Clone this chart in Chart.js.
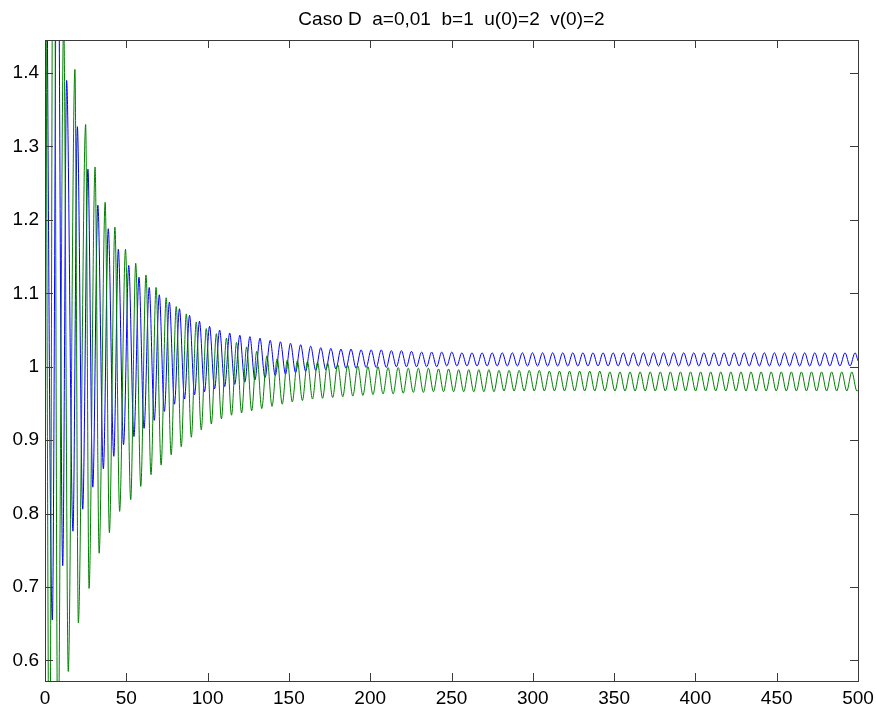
<!DOCTYPE html>
<html>
<head>
<meta charset="utf-8">
<script src="https://cdn.jsdelivr.net/npm/chart.js@4.4.1/dist/chart.umd.min.js"></script>
<style>
    body { margin: 0; background: #fff; }
    #plot { display: block; }
</style>
</head>
<body>
<canvas id="plot" width="876" height="711"></canvas>
<script>
// DATA (turning points of each curve, alternating peak / trough)
const titleText = "Caso D  a=0,01  b=1  u(0)=2  v(0)=2";

const xTicks = [0, 50, 100, 150, 200, 250, 300, 350, 400, 450, 500];
const yTicks = [0.6, 0.7, 0.8, 0.9, 1, 1.1, 1.2, 1.3, 1.4];
const xRange = [0, 500];
const yRange = [0.572, 1.445];

// blue curve
const blueT = [
    0, 4.5, 7.6, 10.9, 13.3, 17.2, 19.9, 23.2,
    26.4, 29.4, 32.5, 35.9, 38.9, 42.3, 45.1, 48.3,
    51.5, 54.7, 57.8, 60.9, 64.1, 67.2, 70.3, 73.4,
    76.5, 79.6, 82.7, 85.8, 88.9, 92.0, 95.0, 98.1,
    101.2, 104.3, 107.4, 110.5, 113.6, 116.7, 119.8, 122.9,
    126.0, 129.1, 132.2, 135.3, 138.5, 141.6, 144.8, 147.9,
    151.0, 154.1, 157.2, 160.3, 163.4, 166.5, 169.6, 172.7,
    175.8, 178.9, 182.0, 185.1, 188.2, 191.3, 194.4, 197.5,
    200.6, 203.7, 206.8, 209.9, 213.0, 216.1, 219.2, 222.3,
    225.4, 228.5, 231.6, 234.7, 237.8, 240.9, 244.0, 247.1,
    250.2, 253.3, 256.4, 259.5, 262.6, 265.7, 268.8, 271.9,
    275.0, 278.1, 281.2, 284.3, 287.4, 290.5, 293.6, 296.7,
    299.8, 302.9, 306.0, 309.1, 312.2, 315.3, 318.4, 321.5,
    324.6, 327.7, 330.8, 333.9, 337.0, 340.1, 343.2, 346.3,
    349.4, 352.5, 355.6, 358.7, 361.8, 364.9, 368.0, 371.1,
    374.2, 377.3, 380.4, 383.5, 386.6, 389.7, 392.8, 395.9,
    399.0, 402.1, 405.2, 408.3, 411.4, 414.5, 417.6, 420.7,
    423.8, 426.9, 430.0, 433.1, 436.2, 439.3, 442.4, 445.5,
    448.6, 451.7, 454.8, 457.9, 461.0, 464.1, 467.2, 470.3,
    473.4, 476.5, 479.6, 482.7, 485.8, 488.9, 492.0, 495.1,
    498.2, 500
];
const blueY = [
    2.0, 0.655, 1.75, 0.729, 1.390, 0.776, 1.327, 0.806,
    1.269, 0.836, 1.220, 0.861, 1.188, 0.878, 1.160, 0.894,
    1.138, 0.905, 1.122, 0.916, 1.108, 0.927, 1.098, 0.939,
    1.088, 0.949, 1.079, 0.956, 1.070, 0.962, 1.062, 0.966,
    1.055, 0.970, 1.050, 0.973, 1.046, 0.976, 1.043, 0.979,
    1.041, 0.982, 1.039, 0.985, 1.036, 0.988, 1.034, 0.990,
    1.032, 0.992, 1.030, 0.994, 1.028, 0.995, 1.026, 0.996,
    1.025, 0.997, 1.024, 0.998, 1.024, 0.998, 1.023, 0.999,
    1.023, 0.999, 1.023, 0.999, 1.022, 1.000, 1.022, 1.000,
    1.021, 1.000, 1.020, 1.000, 1.020, 1.000, 1.020, 1.001,
    1.020, 1.001, 1.019, 1.001, 1.019, 1.001, 1.019, 1.001,
    1.019, 1.001, 1.019, 1.001, 1.019, 1.001, 1.019, 1.001,
    1.019, 1.001, 1.019, 1.001, 1.019, 1.001, 1.019, 1.001,
    1.019, 1.001, 1.019, 1.001, 1.019, 1.001, 1.019, 1.001,
    1.019, 1.001, 1.019, 1.001, 1.019, 1.001, 1.019, 1.001,
    1.019, 1.001, 1.019, 1.001, 1.019, 1.001, 1.019, 1.001,
    1.019, 1.001, 1.019, 1.001, 1.019, 1.001, 1.019, 1.001,
    1.019, 1.001, 1.019, 1.001, 1.019, 1.001, 1.019, 1.001,
    1.019, 1.001, 1.019, 1.001, 1.019, 1.001, 1.019, 1.001,
    1.019, 1.001, 1.019, 1.001, 1.019, 1.001, 1.019, 1.001,
    1.019, 1.008
];

// green curve
const greenT = [
    0, 2.8, 5.3, 7.9, 11.5, 14.3, 18.4, 20.5,
    25.0, 27.1, 30.8, 33.3, 37.0, 39.6, 43.0, 45.9,
    49.5, 52.7, 55.8, 58.9, 62.1, 65.2, 68.3, 71.4,
    74.5, 77.6, 80.7, 83.8, 86.9, 90.0, 93.0, 96.1,
    99.2, 102.3, 105.4, 108.5, 111.6, 114.7, 117.8, 120.9,
    124.0, 127.1, 130.2, 133.3, 136.5, 139.6, 142.8, 145.9,
    149.0, 152.1, 155.2, 158.3, 161.4, 164.5, 167.6, 170.7,
    173.8, 176.9, 180.0, 183.1, 186.2, 189.3, 192.4, 195.5,
    198.6, 201.7, 204.8, 207.9, 211.0, 214.1, 217.2, 220.3,
    223.4, 226.5, 229.6, 232.7, 235.8, 238.9, 242.0, 245.1,
    248.2, 251.3, 254.4, 257.5, 260.6, 263.7, 266.8, 269.9,
    273.0, 276.1, 279.2, 282.3, 285.4, 288.5, 291.6, 294.7,
    297.8, 300.9, 304.0, 307.1, 310.2, 313.3, 316.4, 319.5,
    322.6, 325.7, 328.8, 331.9, 335.0, 338.1, 341.2, 344.3,
    347.4, 350.5, 353.6, 356.7, 359.8, 362.9, 366.0, 369.1,
    372.2, 375.3, 378.4, 381.5, 384.6, 387.7, 390.8, 393.9,
    397.0, 400.1, 403.2, 406.3, 409.4, 412.5, 415.6, 418.7,
    421.8, 424.9, 428.0, 431.1, 434.2, 437.3, 440.4, 443.5,
    446.6, 449.7, 452.8, 455.9, 459.0, 462.1, 465.2, 468.3,
    471.4, 474.5, 477.6, 480.7, 483.8, 486.9, 490.0, 493.1,
    496.2, 499.3, 500
];
const greenY = [
    2.0, 0.35, 1.90, 0.45, 1.47, 0.585, 1.405, 0.651,
    1.330, 0.698, 1.272, 0.746, 1.224, 0.774, 1.190, 0.803,
    1.160, 0.819, 1.141, 0.837, 1.125, 0.853, 1.108, 0.866,
    1.094, 0.880, 1.082, 0.891, 1.072, 0.904, 1.061, 0.914,
    1.052, 0.922, 1.045, 0.929, 1.039, 0.934, 1.033, 0.937,
    1.027, 0.940, 1.021, 0.943, 1.015, 0.946, 1.011, 0.949,
    1.009, 0.952, 1.008, 0.954, 1.007, 0.956, 1.006, 0.957,
    1.005, 0.958, 1.003, 0.959, 1.002, 0.960, 1.001, 0.961,
    1.000, 0.962, 1.000, 0.963, 0.999, 0.963, 0.999, 0.964,
    0.998, 0.965, 0.998, 0.965, 0.998, 0.966, 0.997, 0.966,
    0.997, 0.966, 0.996, 0.966, 0.996, 0.966, 0.996, 0.966,
    0.996, 0.966, 0.995, 0.967, 0.995, 0.967, 0.995, 0.967,
    0.995, 0.967, 0.995, 0.967, 0.994, 0.967, 0.994, 0.967,
    0.994, 0.967, 0.994, 0.967, 0.994, 0.967, 0.994, 0.967,
    0.993, 0.967, 0.993, 0.967, 0.993, 0.967, 0.993, 0.967,
    0.993, 0.967, 0.993, 0.967, 0.993, 0.967, 0.993, 0.967,
    0.993, 0.967, 0.993, 0.967, 0.993, 0.967, 0.993, 0.967,
    0.993, 0.967, 0.993, 0.967, 0.993, 0.967, 0.993, 0.967,
    0.993, 0.967, 0.993, 0.967, 0.993, 0.967, 0.993, 0.967,
    0.993, 0.967, 0.993, 0.967, 0.993, 0.967, 0.993, 0.967,
    0.993, 0.967, 0.968
];

function toPoints(ts, ys) {
    return ts.map((t, i) => ({ x: t, y: ys[i] }));
}

// box round the plot with inward ticks on all four sides (matlab style)
const matlabBox = {
    id: "matlabBox",
    afterDraw(chart) {
        const ctx = chart.ctx;
        const a = chart.chartArea;
        const xs = chart.scales.x;
        const ys = chart.scales.y;
        const len = 8;

        ctx.save();
        ctx.strokeStyle = "#3a3a3a";
        ctx.lineWidth = 1;
        ctx.beginPath();

        xs.ticks.forEach(t => {
            const px = Math.round(xs.getPixelForValue(t.value)) + 0.5;
            ctx.moveTo(px, a.bottom);
            ctx.lineTo(px, a.bottom - len);
            ctx.moveTo(px, a.top);
            ctx.lineTo(px, a.top + len);
        });

        ys.ticks.forEach(t => {
            const py = Math.round(ys.getPixelForValue(t.value)) + 0.5;
            ctx.moveTo(a.left, py);
            ctx.lineTo(a.left + len, py);
            ctx.moveTo(a.right, py);
            ctx.lineTo(a.right - len, py);
        });
        ctx.stroke();

        ctx.strokeRect(a.left + 0.5, a.top + 0.5, a.right - a.left, a.bottom - a.top);
        ctx.restore();
    }
};

Chart.defaults.font.family = "'Liberation Sans', Arial, sans-serif";
Chart.defaults.color = "#000";

new Chart(document.getElementById("plot"), {
    type: "line",
    data: {
        datasets: [
            {
                label: "u",
                data: toPoints(blueT, blueY),
                borderColor: "#0000ff",
                borderWidth: 1,
                pointRadius: 0,
                cubicInterpolationMode: "monotone",
                order: 1
            },
            {
                label: "v",
                data: toPoints(greenT, greenY),
                borderColor: "#008000",
                borderWidth: 1,
                pointRadius: 0,
                cubicInterpolationMode: "monotone",
                order: 0
            }
        ]
    },
    options: {
        responsive: false,
        animation: false,
        events: [],
        layout: { padding: { left: 0, right: 18, top: 0, bottom: 0 } },
        plugins: {
            legend: { display: false },
            tooltip: { enabled: false },
            title: {
                display: true,
                text: titleText,
                fullSize: false,
                color: "#000",
                font: { size: 19, weight: "normal", lineHeight: "22px" },
                padding: { top: 9, bottom: 9 }
            }
        },
        scales: {
            x: {
                type: "linear",
                min: xRange[0],
                max: xRange[1],
                grid: { display: false, drawTicks: false },
                border: { display: false },
                afterBuildTicks: s => { s.ticks = xTicks.map(v => ({ value: v })); },
                afterFit: s => {
                    s.height = 30;
                    // keep the end labels from pushing the plot box in
                    s.paddingLeft = 0;
                    s.paddingRight = 0;
                },
                ticks: {
                    autoSkip: false,
                    maxRotation: 0,
                    padding: 6,
                    font: { size: 19 },
                    callback: v => String(v)
                }
            },
            y: {
                type: "linear",
                min: yRange[0],
                max: yRange[1],
                grid: { display: false, drawTicks: false },
                border: { display: false },
                afterBuildTicks: s => { s.ticks = yTicks.map(v => ({ value: v })); },
                afterFit: s => { s.width = 45; },
                ticks: {
                    padding: 6,
                    font: { size: 19 },
                    callback: v => String(v)
                }
            }
        }
    },
    plugins: [matlabBox]
});
</script>
</body>
</html>
